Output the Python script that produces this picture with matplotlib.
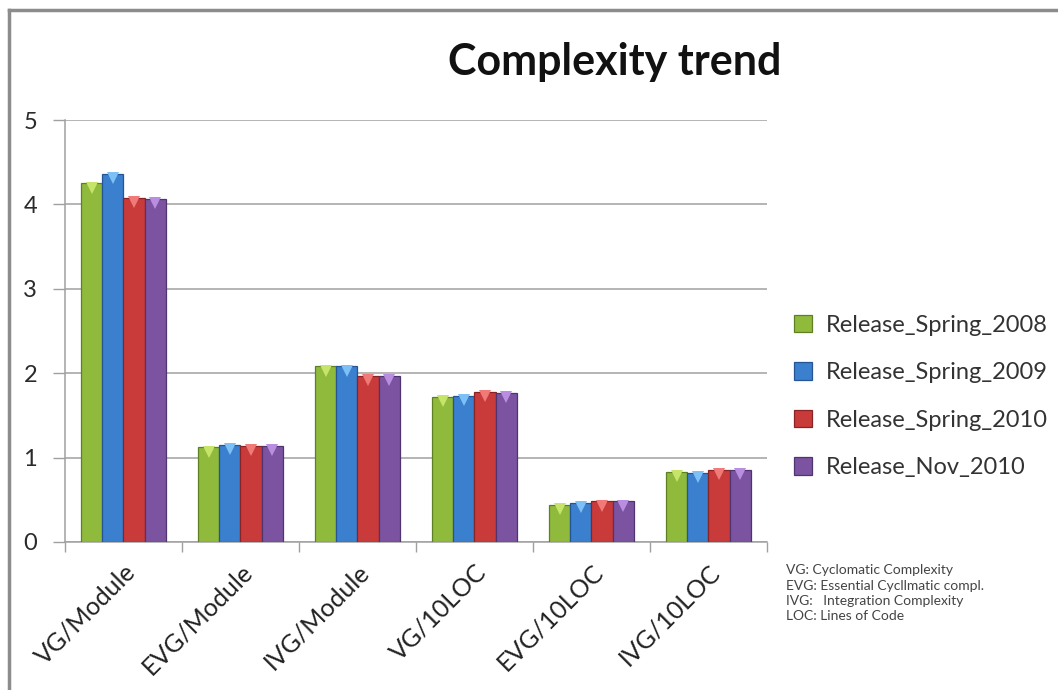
import numpy as np
import matplotlib.pyplot as plt
from matplotlib.lines import Line2D

plt.rcParams['font.family'] = ['Lato', 'DejaVu Sans']

categories = ['VG/Module', 'EVG/Module', 'IVG/Module', 'VG/10LOC', 'EVG/10LOC', 'IVG/10LOC']
releases = ['Release_Spring_2008', 'Release_Spring_2009', 'Release_Spring_2010', 'Release_Nov_2010']
spring_2008 = [4.25, 1.12, 2.08, 1.72, 0.44, 0.83]
spring_2009 = [4.36, 1.15, 2.08, 1.73, 0.46, 0.82]
spring_2010 = [4.08, 1.14, 1.97, 1.78, 0.48, 0.85]
nov_2010 = [4.07, 1.14, 1.97, 1.77, 0.48, 0.85]
notes = ['VG: Cyclomatic Complexity',
         'EVG: Essential Cycllmatic compl.',
         'IVG:   Integration Complexity',
         'LOC: Lines of Code']

series = [spring_2008, spring_2009, spring_2010, nov_2010]
face = ['#8fba3c', '#3b7fcf', '#c93a3a', '#7b53a1']
edge = ['#5f7f25', '#255594', '#8a2424', '#4f3470']
shine = ['#c6e36a', '#7cc0f5', '#f07a78', '#b98ee0']

fig = plt.figure(figsize=(10.58, 6.9), dpi=100)
ax = fig.add_axes([0.0614, 0.2145, 0.6635, 0.6115])

x = np.arange(len(categories))
w = 0.182
for i, (vals, fc, ec, hc) in enumerate(zip(series, face, edge, shine)):
    pos = x + (i - 1.5) * w
    ax.bar(pos, vals, width=w, color=fc, edgecolor=ec,
           linewidth=0.9, label=releases[i], zorder=3)
    # small bevel highlight just under the top of each bar
    ax.plot(pos, np.array(vals) - 0.05, linestyle='none', marker='v',
            markersize=8, markerfacecolor=hc, markeredgewidth=0, zorder=4)

ax.set_xlim(-0.5, len(categories) - 0.5)
ax.set_ylim(0, 5)
ax.set_yticks(range(6))
ax.yaxis.grid(True, color='#a0a0a0', linewidth=1.1, zorder=0)
ax.tick_params(axis='y', direction='out', length=9, width=1, color='#a0a0a0',
               labelsize=17, labelcolor='#2a2a2a', pad=11)

ax.set_xticks(x)
ax.set_xticklabels(categories, rotation=45, ha='right', va='top',
                   rotation_mode='anchor', fontsize=18, color='#222222')
ax.tick_params(axis='x', which='major', length=0, pad=13)
ax.set_xticks(np.arange(len(categories) + 1) - 0.5, minor=True)
ax.tick_params(axis='x', which='minor', direction='out', length=7, width=1, color='#a0a0a0')

for s in ['top', 'right']:
    ax.spines[s].set_visible(False)
for s in ['left', 'bottom']:
    ax.spines[s].set_color('#a0a0a0')
    ax.spines[s].set_linewidth(1.1)

fig.text(0.581, 0.91, 'Complexity trend', ha='center', va='center',
         fontsize=31, fontweight='bold', color='#111111')

ax.legend(loc='center left', bbox_to_anchor=(1.008, 0.345), frameon=False,
          fontsize=17, handlelength=0.75, handleheight=0.75, handletextpad=0.6,
          labelspacing=1.12, labelcolor='#333333')

for k, line in enumerate(notes):
    fig.text(0.743, 1 - (570 + 15.5 * k) / 690, line, ha='left', va='center',
             fontsize=10, color='#444444')

# chart frame on the left and top edges
fig.add_artist(Line2D([0.0087, 0.0087], [0, 0.986], color='#8c8c8c', linewidth=2.5))
fig.add_artist(Line2D([0.0087, 1.0], [0.986, 0.986], color='#8c8c8c', linewidth=2.5))

fig.savefig('out.png', dpi=100)
